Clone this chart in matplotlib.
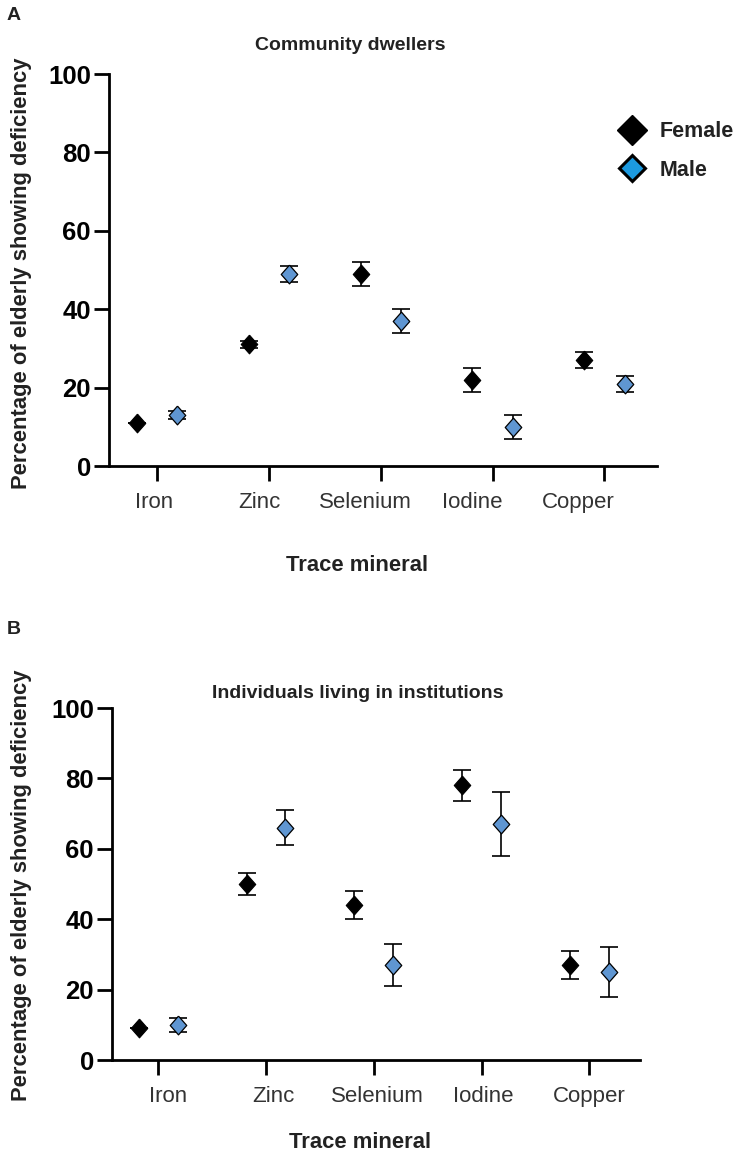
import numpy as np
import matplotlib
matplotlib.use('Agg')
import matplotlib.pyplot as plt
from matplotlib.lines import Line2D
from matplotlib.transforms import ScaledTranslation

plt.rcParams['font.family'] = ['Liberation Sans', 'DejaVu Sans']

# data (percent deficient, error = half bar length)
minerals = ['Iron', 'Zinc', 'Selenium', 'Iodine', 'Copper']

comm_female = [11, 31, 49, 22, 27]
comm_female_err = [0, 1, 3, 3, 2]
comm_male = [13, 49, 37, 10, 21]
comm_male_err = [1, 2, 3, 3, 2]

inst_female = [9, 50, 44, 78, 27]
inst_female_err = [0, 3, 4, 4.5, 4]
inst_male = [10, 66, 27, 67, 25]
inst_male_err = [2, 5, 6, 9, 7]

W, H = 739, 1164
fig = plt.figure(figsize=(W / 100, H / 100), dpi=100)

# slightly tall diamond like the GraphPad marker
diamond = [(0, 1), (0.88, 0), (0, -1), (-0.88, 0), (0, 1)]
male_col = '#5f96d2'


def px_axes(l, t, r, b):
    return fig.add_axes([l / W, 1 - b / H, (r - l) / W, (b - t) / H])


def draw_panel(ax, fem, fem_err, mal, mal_err, label_shift):
    x = np.arange(len(minerals))
    ax.errorbar(x - 0.18, fem, yerr=fem_err, fmt='none', ecolor='black',
                elinewidth=1.2, capsize=6.5, capthick=1.2, zorder=2, clip_on=False)
    ax.errorbar(x + 0.18, mal, yerr=mal_err, fmt='none', ecolor='black',
                elinewidth=1.2, capsize=6.5, capthick=1.2, zorder=2, clip_on=False)
    ax.plot(x - 0.18, fem, linestyle='none', marker=diamond, ms=13.5,
            mfc='black', mec='black', mew=0.8, zorder=3, clip_on=False)
    ax.plot(x + 0.18, mal, linestyle='none', marker=diamond, ms=13.5,
            mfc=male_col, mec='black', mew=0.9, zorder=3, clip_on=False)

    ax.set_xlim(-0.43, 4.47)
    ax.set_ylim(0, 100)
    ax.set_yticks([0, 20, 40, 60, 80, 100])
    ax.set_xticks(x)
    ax.set_xticklabels(minerals)
    for s in ['top', 'right']:
        ax.spines[s].set_visible(False)
    for s in ['left', 'bottom']:
        ax.spines[s].set_linewidth(2.0)
    ax.tick_params(axis='both', length=11, width=2.0, color='black')
    ax.tick_params(axis='y', pad=2, labelsize=18.5)
    ax.tick_params(axis='x', pad=8, labelsize=16, labelcolor='#333333')
    for lab in ax.get_yticklabels():
        lab.set_fontweight('bold')
    # category labels sit a little off their ticks in the original
    for lab, dx in zip(ax.get_xticklabels(), label_shift):
        lab.set_transform(lab.get_transform() + ScaledTranslation(dx / 100, 0, fig.dpi_scale_trans))


axA = px_axes(109, 74, 657, 466)
draw_panel(axA, comm_female, comm_female_err, comm_male, comm_male_err,
           [-3, -9, -15, -20, -26])

axB = px_axes(112, 708, 640, 1060)
draw_panel(axB, inst_female, inst_female_err, inst_male, inst_male_err,
           [10, 7, 4, 2, 0])

ylab = 'Percentage of elderly showing deficiency'
fig.text(22 / W, 1 - 273 / H, ylab, rotation=90, ha='center', va='center',
         fontsize=15.8, fontweight='bold', color='#222222')
fig.text(22 / W, 1 - 885 / H, ylab, rotation=90, ha='center', va='center',
         fontsize=15.8, fontweight='bold', color='#222222')

fig.text(357 / W, 1 - 565 / H, 'Trace mineral', ha='center', va='center',
         fontsize=15.8, fontweight='bold', color='#222222')
fig.text(360 / W, 1 - 1142 / H, 'Trace mineral', ha='center', va='center',
         fontsize=15.8, fontweight='bold', color='#222222')

fig.text(350 / W, 1 - 45 / H, 'Community dwellers', ha='center', va='center',
         fontsize=14, fontweight='bold', color='#222222')
fig.text(358 / W, 1 - 694 / H, 'Individuals living in institutions', ha='center',
         va='center', fontsize=14, fontweight='bold', color='#222222')

fig.text(14 / W, 1 - 15 / H, 'A', ha='center', va='center', fontsize=14,
         fontweight='bold', color='#222222')
fig.text(14 / W, 1 - 630 / H, 'B', ha='center', va='center', fontsize=14,
         fontweight='bold', color='#222222')

handles = [
    Line2D([], [], linestyle='none', marker='D', ms=15, mfc='black', mec='black'),
    Line2D([], [], linestyle='none', marker='D', ms=13.5, mfc='#1c9ae0', mec='black', mew=2.2),
]
leg = axA.legend(handles, ['Female', 'Male'], loc='center left',
                 bbox_to_anchor=(598 / W, 1 - 151 / H), bbox_transform=fig.transFigure,
                 frameon=False, handletextpad=0.55, labelspacing=0.8,
                 prop={'size': 15.5, 'weight': 'bold'}, handlelength=1.4)
for t in leg.get_texts():
    t.set_color('#222222')

fig.savefig('out.png', dpi=100)
